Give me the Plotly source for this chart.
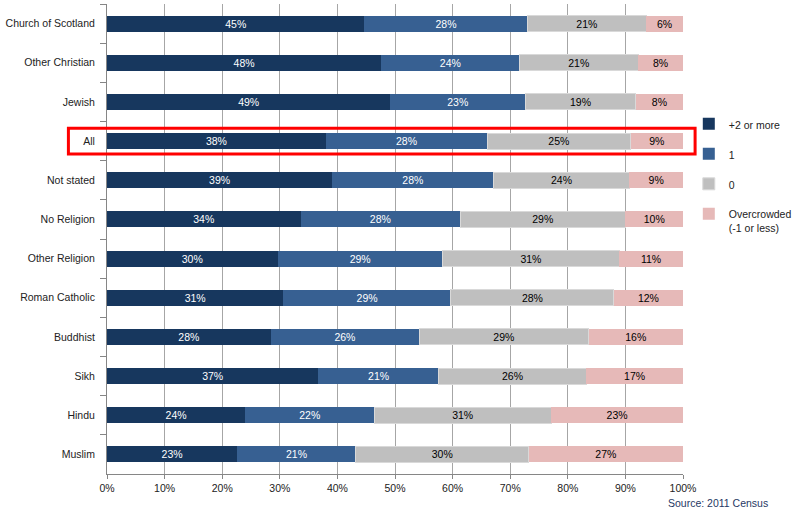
import plotly.graph_objects as go

# religion groups, top to bottom
religions = ['Church of Scotland', 'Other Christian', 'Jewish', 'All', 'Not stated',
             'No Religion', 'Other Religion', 'Roman Catholic', 'Buddhist', 'Sikh',
             'Hindu', 'Muslim']

# occupancy rating shares (%)
plus2 = [44.7, 47.6, 49.2, 38.0, 39.1, 33.6, 29.6, 30.6, 28.4, 36.7, 24.0, 22.6]
one = [28.3, 24.0, 23.4, 28.0, 28.0, 27.7, 28.7, 29.1, 25.8, 20.9, 22.4, 20.6]
zero = [20.6, 20.6, 19.2, 24.9, 23.6, 28.7, 30.6, 28.3, 29.4, 25.6, 30.7, 30.0]
overcrowded = [6.4, 7.8, 8.2, 9.1, 9.3, 10.0, 11.1, 12.0, 16.4, 16.8, 22.9, 26.8]

x_ticks = [0, 10, 20, 30, 40, 50, 60, 70, 80, 90, 100]
x_labels = [f'{t}%' for t in x_ticks]

FONT = 'Liberation Sans'

series = [
    ('+2 or more', plus2, '#17375E', 'white', None),
    ('1', one, '#376092', 'white', None),
    ('0', zero, '#BFBFBF', 'black', '#D9D9D9'),
    ('Overcrowded<br>(-1 or less)', overcrowded, '#E6B9B8', 'black', None),
]

fig = go.Figure()
for i, (name, vals, color, txtcolor, edge) in enumerate(series):
    fig.add_trace(go.Bar(
        y=religions,
        x=vals,
        name=name,
        orientation='h',
        legendgroup=str(i),
        marker=dict(color=color,
                    line=dict(color=edge if edge else color, width=1 if edge else 0)),
        texttemplate='%{x:.0f}%',
        textposition='inside',
        insidetextanchor='middle',
        constraintext='none',
        textfont=dict(family=FONT, size=10.5, color=txtcolor),
        hovertemplate='%{y}: %{x:.1f}%<extra></extra>',
    ))

# red highlight round the "All" row
all_idx = religions.index('All')
fig.add_shape(type='rect', xref='paper', yref='y',
              x0=-0.067, x1=1.021, y0=all_idx - 0.33, y1=all_idx + 0.33,
              line=dict(color='#FF0000', width=3))

fig.add_annotation(text='Source: 2011 Census', xref='paper', yref='paper',
                   x=1.151, y=-0.062, xanchor='right', yanchor='middle',
                   showarrow=False,
                   font=dict(family=FONT, size=10.5, color='#1F3864'))

fig.update_layout(
    barmode='stack',
    bargap=0.59,
    width=800,
    height=514,
    margin=dict(l=107, r=117, t=4, b=40, autoexpand=False),
    plot_bgcolor='white',
    paper_bgcolor='white',
    font=dict(family=FONT, size=10.5, color='#222222'),
    legend=dict(xref='container', yref='container', x=0.861, y=0.785,
                xanchor='left', yanchor='top', valign='top',
                traceorder='grouped', tracegroupgap=11,
                bgcolor='rgba(0,0,0,0)',
                font=dict(family=FONT, size=10.5, color='#222222'),
                itemwidth=30),
    xaxis=dict(range=[0, 100], tickvals=x_ticks, ticktext=x_labels,
               showgrid=True, gridcolor='#A6A6A6', gridwidth=1,
               showline=True, linecolor='#868686', linewidth=1,
               ticks='outside', ticklen=4, tickcolor='#868686',
               zeroline=False, fixedrange=True),
    yaxis=dict(categoryorder='array', categoryarray=religions,
               autorange='reversed',
               showline=True, linecolor='#868686', linewidth=1,
               ticks='outside', ticklen=6, tickcolor='#868686',
               tickson='boundaries', ticklabelstandoff=9,
               showgrid=False, fixedrange=True),
)

# drop the page's default body margin so the 800x514 figure fills the window
fig.write_html('out.html', config={'displayModeBar': False},
               post_script="document.body.style.margin='0';")
